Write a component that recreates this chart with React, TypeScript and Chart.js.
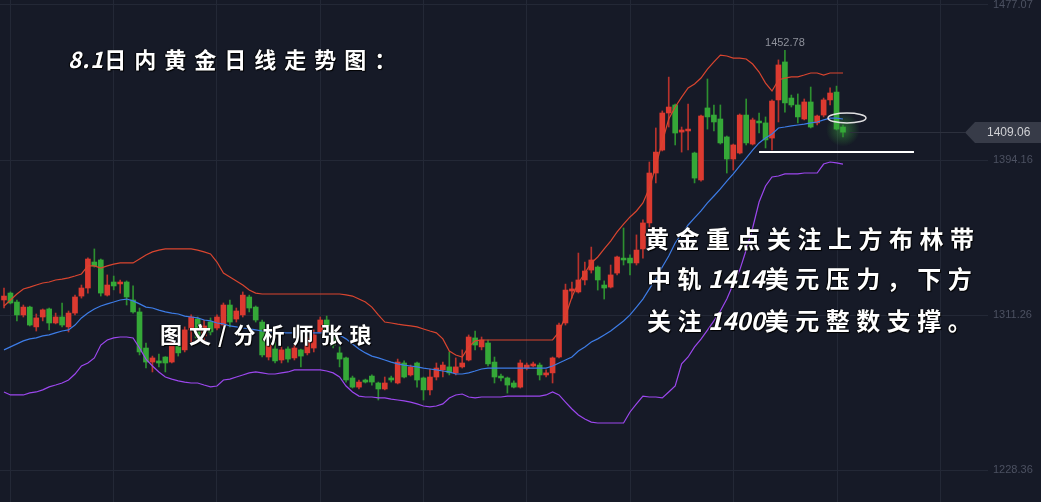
import React, { useEffect, useRef } from 'react';
import { Chart, registerables } from 'chart.js';

Chart.register(...registerables);

// ---- data (daily gold candles, Bollinger bands) ----
const openP = [
  1319.3, 1323.0, 1318.2, 1311.3, 1315.5, 1304.9, 1310.2, 1314.5, 1307.0, 1310.2,
  1304.9, 1312.3, 1321.4, 1325.7, 1339.6, 1340.7, 1321.9, 1328.9, 1327.9, 1328.9,
  1319.3, 1312.9, 1293.6, 1286.1, 1286.7, 1288.8, 1286.1, 1296.3, 1292.6, 1303.3,
  1309.1, 1300.1, 1307.5, 1304.3, 1305.9, 1316.6, 1309.1, 1311.3, 1320.9, 1315.5,
  1307.5, 1288.8, 1293.1, 1287.2, 1293.1, 1288.3, 1292.6, 1291.0, 1293.6, 1302.2,
  1308.6, 1303.3, 1291.0, 1288.3, 1277.6, 1272.7, 1276.5, 1278.6, 1274.9, 1271.7,
  1277.6, 1274.9, 1285.6, 1279.2, 1285.6, 1277.6, 1271.2, 1278.1, 1281.9, 1283.5,
  1280.3, 1283.5, 1287.2, 1299.0, 1294.2, 1296.3, 1286.1, 1278.6, 1277.6, 1274.9,
  1272.7, 1282.9, 1284.0, 1284.5, 1279.2, 1280.3, 1288.8, 1307.0, 1324.1, 1323.6,
  1330.0, 1335.3, 1336.9, 1327.3, 1326.2, 1333.7, 1341.7, 1341.7, 1339.1, 1346.6,
  1360.5, 1387.2, 1399.5, 1419.3, 1423.6, 1409.1, 1409.7, 1397.9, 1383.5, 1422.0,
  1418.2, 1416.1, 1406.5, 1394.7, 1397.9, 1418.2, 1402.7, 1415.0, 1414.0, 1405.9,
  1426.3, 1446.6, 1427.3, 1423.6, 1416.1, 1425.2, 1414.0, 1418.2, 1426.3, 1430.5,
  1411.8,
];
const highP = [
  1325.7, 1323.6, 1319.3, 1316.6, 1316.0, 1311.8, 1314.5, 1315.0, 1312.3, 1317.7,
  1313.4, 1321.9, 1327.3, 1341.8, 1346.6, 1341.2, 1332.7, 1332.1, 1330.0, 1329.5,
  1326.8, 1315.0, 1296.3, 1289.3, 1290.4, 1289.0, 1297.9, 1297.9, 1304.9, 1311.3,
  1310.2, 1308.6, 1309.7, 1311.3, 1317.7, 1319.3, 1315.0, 1323.6, 1321.9, 1316.1,
  1308.6, 1297.9, 1296.8, 1294.2, 1294.2, 1295.2, 1293.1, 1300.1, 1303.3, 1310.2,
  1310.7, 1305.4, 1294.2, 1288.8, 1278.6, 1276.5, 1277.0, 1279.2, 1275.4, 1278.1,
  1278.6, 1287.7, 1286.7, 1284.5, 1286.1, 1278.1, 1282.4, 1285.6, 1286.1, 1291.5,
  1288.3, 1292.6, 1300.6, 1302.7, 1299.5, 1297.9, 1288.8, 1279.7, 1278.1, 1276.0,
  1287.2, 1285.6, 1286.1, 1285.6, 1281.9, 1288.8, 1307.0, 1327.8, 1328.9, 1344.4,
  1339.6, 1347.6, 1337.5, 1329.5, 1338.0, 1342.8, 1357.8, 1343.4, 1354.1, 1362.1,
  1393.1, 1411.3, 1420.4, 1438.5, 1424.1, 1411.8, 1424.1, 1398.4, 1418.2, 1437.5,
  1423.6, 1423.6, 1407.0, 1402.7, 1418.8, 1426.8, 1416.6, 1419.3, 1417.2, 1426.3,
  1447.7, 1452.78, 1428.9, 1429.5, 1426.8, 1433.2, 1418.2, 1427.3, 1432.7, 1433.7,
  1412.9,
];
const lowP = [
  1315.0, 1317.2, 1308.1, 1310.2, 1305.4, 1302.7, 1308.1, 1303.3, 1306.5, 1304.9,
  1302.2, 1311.3, 1320.3, 1323.0, 1336.9, 1321.4, 1321.4, 1324.7, 1323.0, 1316.6,
  1312.3, 1289.9, 1282.9, 1280.8, 1283.5, 1280.8, 1285.6, 1289.3, 1291.5, 1296.8,
  1297.4, 1297.9, 1300.6, 1303.3, 1304.9, 1304.9, 1307.5, 1310.2, 1312.9, 1307.5,
  1288.8, 1287.2, 1285.6, 1285.6, 1286.1, 1287.2, 1283.5, 1289.9, 1291.5, 1301.7,
  1301.7, 1293.6, 1283.5, 1275.4, 1272.2, 1271.7, 1274.9, 1273.8, 1265.8, 1271.2,
  1275.4, 1274.4, 1277.6, 1278.6, 1272.7, 1265.8, 1268.5, 1276.5, 1278.1, 1279.2,
  1279.2, 1282.9, 1286.7, 1292.6, 1292.6, 1284.0, 1274.9, 1276.0, 1269.5, 1272.2,
  1272.2, 1281.9, 1283.5, 1276.5, 1278.1, 1274.9, 1288.3, 1305.9, 1320.3, 1323.0,
  1327.3, 1333.7, 1324.6, 1319.8, 1325.7, 1332.7, 1338.0, 1332.7, 1338.0, 1341.7,
  1358.3, 1381.9, 1399.0, 1411.8, 1402.2, 1398.4, 1399.5, 1381.9, 1382.9, 1410.7,
  1409.7, 1402.7, 1387.2, 1388.8, 1397.4, 1402.2, 1402.2, 1408.6, 1400.6, 1399.5,
  1414.5, 1419.8, 1422.5, 1414.0, 1415.6, 1411.3, 1412.9, 1417.2, 1423.6, 1410.2,
  1406.5,
];
const closeP = [
  1321.4, 1317.7, 1311.3, 1315.5, 1305.9, 1309.7, 1314.0, 1307.0, 1310.2, 1305.9,
  1312.3, 1320.9, 1325.7, 1341.2, 1337.5, 1323.0, 1327.3, 1326.8, 1328.9, 1320.9,
  1312.9, 1291.5, 1286.1, 1288.3, 1285.6, 1285.6, 1296.3, 1291.0, 1303.3, 1310.2,
  1299.0, 1305.4, 1302.2, 1310.2, 1316.6, 1307.5, 1313.4, 1321.9, 1315.0, 1308.6,
  1289.9, 1295.2, 1286.7, 1292.6, 1287.7, 1293.6, 1289.3, 1299.0, 1300.6, 1308.6,
  1303.3, 1295.2, 1287.7, 1276.5, 1272.7, 1275.4, 1275.4, 1275.4, 1271.7, 1274.9,
  1276.5, 1286.1, 1278.1, 1283.5, 1276.5, 1271.2, 1278.1, 1282.9, 1284.5, 1280.3,
  1283.5, 1285.6, 1299.5, 1295.2, 1297.9, 1285.1, 1278.1, 1277.6, 1273.8, 1272.7,
  1285.6, 1284.5, 1285.1, 1279.2, 1280.3, 1288.3, 1305.9, 1324.6, 1325.2, 1330.0,
  1334.8, 1340.7, 1330.0, 1325.7, 1332.7, 1342.3, 1340.7, 1339.1, 1346.0, 1360.5,
  1387.2, 1398.4, 1419.3, 1422.5, 1408.6, 1410.2, 1410.7, 1384.5, 1417.7, 1417.2,
  1414.5, 1403.3, 1394.7, 1402.2, 1418.2, 1403.3, 1415.6, 1414.0, 1404.9, 1425.7,
  1445.0, 1424.7, 1423.6, 1417.2, 1425.2, 1411.8, 1417.7, 1426.3, 1430.0, 1410.7,
  1409.06,
];
const bollUpper = [
  1316.1, 1319.3, 1322.5, 1325.2, 1326.2, 1327.3, 1328.4, 1328.9, 1330.0, 1330.5,
  1331.1, 1332.1, 1333.2, 1337.5, 1337.5, 1336.4, 1337.5, 1338.5, 1339.1, 1339.1,
  1339.1, 1341.2, 1343.4, 1345.0, 1346.0, 1346.6, 1346.6, 1346.6, 1346.6, 1346.6,
  1346.0, 1345.0, 1343.9, 1339.6, 1333.7, 1331.6, 1329.5, 1327.3, 1324.6, 1323.0,
  1322.5, 1322.5, 1322.5, 1322.5, 1322.5, 1322.5, 1322.5, 1322.5, 1322.5, 1322.5,
  1322.5, 1322.5, 1322.5, 1322.0, 1321.4, 1319.8, 1318.2, 1315.5, 1311.3, 1307.5,
  1307.0, 1306.4, 1305.9, 1305.4, 1304.9, 1303.8, 1302.7, 1301.7, 1298.5, 1292.0,
  1289.9, 1288.8, 1294.2, 1297.4, 1297.9, 1297.9, 1297.9, 1297.9, 1297.9, 1297.9,
  1297.9, 1297.9, 1297.9, 1297.9, 1297.9, 1297.9, 1302.2, 1310.7, 1320.9, 1328.4,
  1333.7, 1339.1, 1342.3, 1346.6, 1350.8, 1355.7, 1359.9, 1363.7, 1366.9, 1371.2,
  1379.2, 1391.0, 1403.8, 1416.1, 1422.5, 1427.8, 1432.7, 1434.8, 1438.0, 1442.8,
  1446.6, 1450.3, 1449.8, 1448.7, 1448.7, 1448.2, 1445.5, 1441.2, 1435.3, 1431.1,
  1437.0, 1438.0, 1438.6, 1438.6, 1439.6, 1440.7, 1440.7, 1439.6, 1440.7, 1440.7,
  1440.7,
];
const bollMid = [
  1292.6, 1294.2, 1295.8, 1297.4, 1298.5, 1299.0, 1300.1, 1300.6, 1301.7, 1302.7,
  1303.3, 1305.9, 1309.7, 1312.3, 1314.5, 1316.1, 1317.2, 1318.2, 1319.3, 1319.8,
  1318.8, 1317.2, 1315.5, 1315.0, 1313.9, 1312.9, 1312.3, 1311.8, 1310.7, 1310.2,
  1309.7, 1308.6, 1308.1, 1307.0, 1306.5, 1305.4, 1304.9, 1304.3, 1303.8, 1303.3,
  1302.7, 1302.2, 1301.7, 1301.7, 1301.7, 1301.7, 1301.7, 1301.7, 1301.7, 1301.7,
  1301.7, 1301.7, 1300.6, 1298.5, 1295.8, 1293.1, 1291.0, 1289.3, 1288.3, 1287.2,
  1286.1, 1285.1, 1284.5, 1284.0, 1283.5, 1282.9, 1282.4, 1281.9, 1281.3, 1280.8,
  1279.7, 1279.7, 1280.3, 1281.3, 1282.4, 1282.9, 1282.9, 1282.9, 1282.9, 1282.9,
  1282.9, 1282.9, 1282.9, 1282.9, 1282.9, 1284.0, 1285.6, 1287.2, 1288.8, 1292.0,
  1294.2, 1296.8, 1298.5, 1300.6, 1302.7, 1305.4, 1308.1, 1311.3, 1315.5, 1319.8,
  1325.2, 1330.5, 1336.9, 1342.8, 1349.8, 1354.6, 1359.4, 1363.2, 1366.9, 1371.2,
  1374.9, 1378.7, 1382.9, 1386.7, 1391.0, 1395.2, 1399.5, 1403.3, 1405.9, 1408.1,
  1411.3, 1411.8, 1412.4, 1412.9, 1413.4, 1414.0, 1414.5, 1415.6, 1416.6, 1416.6,
  1416.1,
];
const bollLower = [
  1270.1, 1268.5, 1268.5, 1268.5, 1269.6, 1270.1, 1271.2, 1272.8, 1273.8, 1274.9,
  1276.5, 1279.7, 1284.0, 1285.6, 1288.3, 1295.2, 1297.9, 1299.0, 1299.5, 1299.5,
  1299.0, 1293.6, 1287.7, 1284.0, 1280.8, 1278.1, 1277.0, 1276.0, 1275.4, 1274.9,
  1274.9, 1273.8, 1272.8, 1273.3, 1276.5, 1277.0, 1278.1, 1279.2, 1280.3, 1280.8,
  1280.3, 1279.7, 1279.7, 1280.3, 1280.8, 1281.9, 1281.9, 1281.9, 1281.9, 1281.9,
  1281.3, 1280.3, 1278.1, 1273.3, 1270.1, 1267.9, 1267.4, 1267.4, 1266.9, 1266.9,
  1266.3, 1265.8, 1265.3, 1264.7, 1263.7, 1262.6, 1262.1, 1262.6, 1263.7, 1266.9,
  1268.5, 1269.0, 1267.4, 1266.9, 1267.4, 1267.4, 1267.4, 1267.4, 1267.9, 1267.9,
  1267.9, 1267.9, 1267.9, 1267.9, 1268.5, 1270.1, 1268.5, 1264.7, 1261.0, 1257.8,
  1255.6, 1254.0, 1253.5, 1253.5, 1253.5, 1253.5, 1253.5, 1259.4, 1263.7, 1267.9,
  1267.4, 1267.4, 1266.9, 1270.1, 1273.3, 1285.1, 1288.8, 1294.2, 1298.4, 1303.2,
  1308.1, 1313.4, 1319.8, 1327.8, 1335.3, 1346.0, 1357.8, 1371.7, 1380.3, 1385.1,
  1385.6, 1386.7, 1386.7, 1386.7, 1387.2, 1387.2, 1387.2, 1392.0, 1393.1, 1392.6,
  1392.0,
];
const yTickValues = [1228.36, 1311.26, 1394.16, 1477.07];
const supportLevel = [1398.4];
const supportRange = [117, 141];

// ---- styling / layout constants ----
const BG = '#161a27';
const GRID = '#232836';
const UP = '#dc3a30';
const UP_WICK = '#b8322c';
const DOWN = '#35a838';
const DOWN_WICK = '#2d8f30';
const X_MIN = -0.62;
const X_MAX = 152.47;
const X_GRID_START = 0.93;
const X_GRID_STEP = 16.02;
const Y_MIN = 1211.25;
const Y_MAX = 1479.74;
const AXIS_FONT = '11px "Liberation Sans", Arial, sans-serif';

const overlayPlugin = {
  id: 'overlay',
  beforeDatasetsDraw(chart: any) {
    const { ctx, scales } = chart;
    const li = closeP.length - 1;
    const cx = scales.x.getPixelForValue(li);
    const cy = scales.y.getPixelForValue((openP[li] + closeP[li]) / 2);
    const g = ctx.createRadialGradient(cx, cy, 0, cx, cy, 17);
    g.addColorStop(0, 'rgba(70,200,70,0.45)');
    g.addColorStop(1, 'rgba(70,200,70,0)');
    ctx.save();
    ctx.fillStyle = g;
    ctx.beginPath();
    ctx.arc(cx, cy, 17, 0, Math.PI * 2);
    ctx.fill();
    ctx.restore();
  },
  afterDatasetsDraw(chart: any) {
    const { ctx, scales } = chart;
    const x = scales.x;
    const y = scales.y;
    let hi = 0;
    highP.forEach((v, i) => {
      if (v > highP[hi]) hi = i;
    });
    ctx.save();
    ctx.font = AXIS_FONT;
    ctx.fillStyle = '#8e919b';
    ctx.textAlign = 'center';
    ctx.textBaseline = 'bottom';
    ctx.fillText(highP[hi].toFixed(2), x.getPixelForValue(hi), y.getPixelForValue(highP[hi]) - 2);
    const li = closeP.length - 1;
    const ex = x.getPixelForValue(li) + 4;
    const ey = y.getPixelForValue(bollMid[li]) - 1;
    ctx.strokeStyle = 'rgba(235,235,235,0.95)';
    ctx.lineWidth = 1.5;
    ctx.beginPath();
    ctx.ellipse(ex, ey, 19, 5, 0, 0, Math.PI * 2);
    ctx.stroke();
    ctx.restore();
  },
  afterDraw(chart: any) {
    const { ctx, scales, chartArea } = chart;
    // y-axis tick labels
    ctx.save();
    ctx.font = AXIS_FONT;
    ctx.fillStyle = '#4c5161';
    ctx.textAlign = 'left';
    ctx.textBaseline = 'middle';
    yTickValues.forEach((v) => {
      ctx.fillText(v.toFixed(2), chartArea.right + 5, scales.y.getPixelForValue(v));
    });
    // last price tag
    const li = closeP.length - 1;
    const last = closeP[li];
    const py = Math.round(scales.y.getPixelForValue(last)) + 0.5;
    const startX = scales.x.getPixelForValue(li) + 7;
    const W = chart.width;
    ctx.strokeStyle = '#2c303d';
    ctx.lineWidth = 1;
    ctx.beginPath();
    ctx.moveTo(startX, py);
    ctx.lineTo(965, py);
    ctx.stroke();
    ctx.fillStyle = '#373b48';
    ctx.beginPath();
    ctx.moveTo(965, py);
    ctx.lineTo(975, py - 10.5);
    ctx.lineTo(W, py - 10.5);
    ctx.lineTo(W, py + 10.5);
    ctx.lineTo(975, py + 10.5);
    ctx.closePath();
    ctx.fill();
    ctx.fillStyle = '#d0d1d5';
    ctx.font = '12px "Liberation Sans", Arial, sans-serif';
    ctx.fillText(last.toFixed(2), 987, py + 0.5);
    ctx.restore();
  },
};

const textBase: React.CSSProperties = {
  position: 'absolute',
  color: '#ffffff',
  fontFamily: '"Noto Sans CJK SC", "Noto Sans", sans-serif',
  fontWeight: 700,
  whiteSpace: 'nowrap',
  textShadow: '1px 1px 1px #000, -1px 0 1px #000',
  margin: 0,
};

export default function App() {
  const ref = useRef<HTMLCanvasElement>(null);

  useEffect(() => {
    if (!ref.current) return;
    const idx = closeP.map((_, i) => i);
    const isUp = idx.map((i) => closeP[i] >= openP[i]);
    const lineDs = (label: string, values: number[], color: string) =>
      ({
        type: 'line',
        label,
        data: idx.map((i) => ({ x: i, y: values[i] })),
        borderColor: color,
        borderWidth: 1.2,
        pointRadius: 0,
        tension: 0,
        order: 0,
      } as any);
    const chart = new Chart(ref.current, {
      type: 'bar',
      data: {
        datasets: [
          lineDs('upper', bollUpper, '#d9452f'),
          lineDs('mid', bollMid, '#3d7ce6'),
          lineDs('lower', bollLower, '#9c47ee'),
          {
            type: 'line',
            label: 'support',
            data: supportRange.map((i) => ({ x: i, y: supportLevel[0] })),
            borderColor: '#ffffff',
            borderWidth: 2,
            pointRadius: 0,
            order: -1,
          } as any,
          {
            type: 'bar',
            label: 'wick',
            data: idx.map((i) => ({ x: i, y: [lowP[i], highP[i]] })),
            backgroundColor: idx.map((i) => (isUp[i] ? UP_WICK : DOWN_WICK)),
            borderWidth: 0,
            barThickness: 1,
            grouped: false,
            order: 2,
          } as any,
          {
            type: 'bar',
            label: 'body',
            data: idx.map((i) => ({ x: i, y: [openP[i], closeP[i]] })),
            backgroundColor: idx.map((i) => (isUp[i] ? UP : DOWN)),
            borderWidth: 0,
            barThickness: 5,
            minBarLength: 1,
            grouped: false,
            order: 1,
          } as any,
        ],
      },
      options: {
        responsive: false,
        animation: false,
        devicePixelRatio: 1,
        layout: { padding: 0, autoPadding: false },
        plugins: { legend: { display: false }, tooltip: { enabled: false } },
        scales: {
          x: {
            type: 'linear',
            min: X_MIN,
            max: X_MAX,
            offset: false,
            afterBuildTicks: (s: any) => {
              const t = [];
              for (let v = X_GRID_START; v < X_MAX; v += X_GRID_STEP) t.push({ value: v });
              s.ticks = t;
            },
            afterFit: (s: any) => {
              s.height = 0;
            },
            ticks: { display: false },
            grid: { color: GRID, drawTicks: false, offset: false, lineWidth: 1 },
            border: { display: false },
          },
          y: {
            type: 'linear',
            position: 'right',
            min: Y_MIN,
            max: Y_MAX,
            afterBuildTicks: (s: any) => {
              s.ticks = yTickValues.map((v) => ({ value: v }));
            },
            afterFit: (s: any) => {
              s.width = 53;
            },
            ticks: { display: false },
            grid: { color: GRID, drawTicks: false, lineWidth: 1 },
            border: { display: false },
          },
        },
      } as any,
      plugins: [overlayPlugin],
    });
    return () => chart.destroy();
  }, []);

  return (
    <div
      style={{
        position: 'fixed',
        left: 0,
        top: 0,
        width: 1041,
        height: 502,
        background: BG,
        overflow: 'hidden',
      }}
    >
      <canvas ref={ref} width={1041} height={502} style={{ display: 'block' }} />
      <div style={{ ...textBase, left: 68, top: 45, fontSize: 22, lineHeight: '26px', letterSpacing: '8px' }}>
        <span style={{ fontStyle: 'italic', letterSpacing: '1px' }}>8.1</span>日内黄金日线走势图：
      </div>
      <div style={{ ...textBase, left: 160, top: 320, fontSize: 22, lineHeight: '26px', letterSpacing: '7px' }}>
        图文/分析师张琅
      </div>
      <div style={{ ...textBase, left: 645, top: 225, fontSize: 24, lineHeight: '26px', letterSpacing: '6.5px' }}>
        黄金重点关注上方布林带
      </div>
      <div style={{ ...textBase, left: 647, top: 265, fontSize: 24, lineHeight: '26px', letterSpacing: '6.5px' }}>
        中轨<span style={{ fontStyle: 'italic', letterSpacing: '0px' }}>1414</span>美元压力，下方
      </div>
      <div style={{ ...textBase, left: 647, top: 307, fontSize: 24, lineHeight: '26px', letterSpacing: '6.5px' }}>
        关注<span style={{ fontStyle: 'italic', letterSpacing: '0px' }}>1400</span>美元整数支撑。
      </div>
    </div>
  );
}
